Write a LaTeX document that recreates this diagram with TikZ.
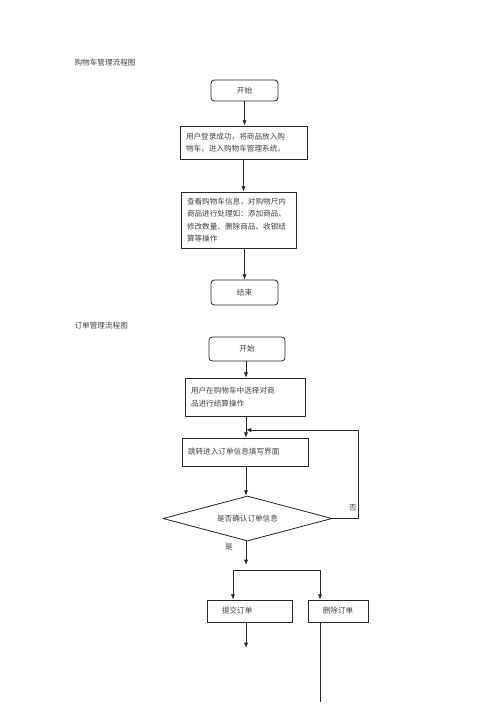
\documentclass[tikz,border=0pt]{standalone}
\usepackage{fontspec}
\newfontfamily\cjk{Noto Sans CJK SC}
\usetikzlibrary{shapes.geometric,arrows.meta}
\tikzset{
  procbox/.style={draw, rectangle, align=left, inner xsep=1.8mm, text=black!75},
  termbox/.style={draw, rectangle, rounded corners=1mm, align=center, text=black!75},
  decbox/.style={draw, diamond, inner sep=0pt, text=black!75},
  lbl/.style={text=black!75, inner sep=1pt}
}
\begin{document}
\begin{tikzpicture}[x=0.3mm, y=-0.3mm, font=\cjk\fontsize{6.5}{10.5}\selectfont, line join=round, line width=0.7pt, draw=black!85, >={Latex[length=1.6mm,width=1.3mm]}]
\useasboundingbox (0,0) rectangle (500,708);
% cart flow
\node[lbl, anchor=west] (t1) at (73,63) {购物车管理流程图};
\node[termbox, minimum width=20.1mm, minimum height=6.3mm] (s1) at (244.5,90.5) {开始};
\node[procbox, text width=34.5mm, minimum height=9.9mm] (b1) at (243.5,142.5)
  {用户登录成功，将商品放入购\\物车，进入购物车管理系统。};
\node[procbox, text width=30.9mm, minimum height=16.8mm] (b2) at (238.5,220)
  {查看购物车信息，对购物尺内\\商品进行处理如：添加商品、\\修改数量、删除商品、收银结\\算等操作};
\node[termbox, minimum width=20.1mm, minimum height=7.5mm] (e1) at (244.5,292.5) {结束};
\draw[->] (s1.south) -- (s1.south |- b1.north);
\draw[->] (b1.south) -- (b1.south |- b2.north);
\draw[->] (b2.south -| s1) -- (s1 |- e1.north);
% order flow
\node[lbl, anchor=west] (t2) at (73,326) {订单管理流程图};
\node[termbox, minimum width=22.8mm, minimum height=7.2mm] (s2) at (247,349) {开始};
\node[procbox, text width=32.4mm, minimum height=11.4mm] (b3) at (245,397)
  {用户在购物车中选择对商\\品进行结算操作};
\node[procbox, text width=34.2mm, minimum height=8.4mm] (b4) at (245,452)
  {跳转进入订单信息填写界面};
\node[decbox, minimum width=50.7mm, minimum height=13.5mm, aspect=3.75] (d) at (247.5,518.5)
  {是否确认订单信息};
\node[procbox, inner xsep=4.5mm, text width=16.5mm, minimum height=6.6mm] (b5) at (249.5,611) {提交订单};
\node[procbox, align=center, inner xsep=1mm, text width=16mm, minimum height=6.6mm] (b6) at (338,611) {删除订单};
\node[lbl] (no) at (353,508) {否};
\node[lbl] (yes) at (229,547) {是};
\coordinate (fb) at (246,430);
\coordinate (fr) at (358,430);
\coordinate (jn) at (246,565);
\coordinate (bl) at (233,570);
\coordinate (br) at (320,570);
\coordinate (o1) at (246,648);
\coordinate (o2) at (320,702);
\draw[->] (fb |- s2.south) -- (fb |- b3.north);
\draw[->] (fb |- b3.south) -- (fb |- b4.north);
\draw[->] (fb |- b4.south) -- (fb |- d.north);
\draw[->] (d.east) -| (fr) -- (fb);
\draw[->] (jn |- d.south) -- (jn);
\draw[<->] (bl |- b5.north) -- (bl) -- (br) -- (br |- b6.north);
\draw[->] (o1 |- b5.south) -- (o1);
\draw (o2 |- b6.south) -- (o2);
\end{tikzpicture}
\end{document}
